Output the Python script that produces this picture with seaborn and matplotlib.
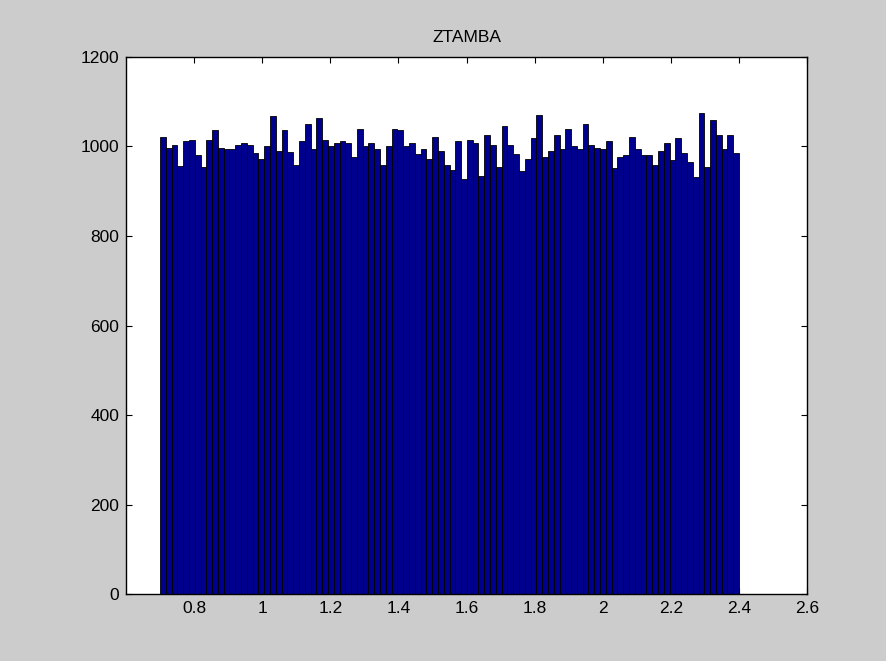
import numpy as np
import pandas as pd
import matplotlib
matplotlib.use("Agg")
import matplotlib.pyplot as plt
import seaborn as sns

# Histogram of ZTAMBA: 100 equal bins between the data range limits
range_lo = 0.7
range_hi = 2.4
counts = [
    1021, 997, 1004, 956, 1011, 1015, 980, 953, 1015, 1036,
    997, 995, 995, 1004, 1007, 1004, 986, 973, 1001, 1067,
    990, 1036, 987, 959, 1011, 1049, 995, 1064, 1015, 1001,
    1007, 1011, 1007, 977, 1039, 1001, 1007, 995, 959, 1001,
    1039, 1036, 1001, 1007, 983, 995, 973, 1021, 990, 959,
    948, 1011, 927, 1015, 1008, 934, 1025, 1004, 955, 1046,
    1004, 983, 945, 973, 1018, 1071, 977, 990, 1025, 995,
    1039, 1001, 995, 1049, 1004, 997, 995, 1011, 952, 977,
    980, 1021, 995, 980, 980, 959, 990, 1007, 969, 1018,
    986, 966, 931, 1074, 955, 1060, 1025, 995, 1025, 986,
]
x_ticks = [0.8, 1.0, 1.2, 1.4, 1.6, 1.8, 2.0, 2.2, 2.4, 2.6]
x_tick_labels = ["0.8", "1", "1.2", "1.4", "1.6", "1.8", "2", "2.2", "2.4", "2.6"]
y_ticks = [0, 200, 400, 600, 800, 1000, 1200]
title = "ZTAMBA"

n_bins = len(counts)
edges = np.linspace(range_lo, range_hi, n_bins + 1)
centers = (edges[:-1] + edges[1:]) / 2
df = pd.DataFrame({"ZTAMBA": centers, "count": np.asarray(counts, dtype=float)})

sns.set_theme(style="white")
plt.rcParams["font.family"] = ["Liberation Sans", "DejaVu Sans"]

fig = plt.figure(figsize=(8.87, 6.61), dpi=100, facecolor="#cccccc")
ax = fig.add_axes([0.142, 0.101, 0.768, 0.813])
ax.set_facecolor("white")

sns.histplot(data=df, x="ZTAMBA", weights="count",
             bins=n_bins, binrange=(range_lo, range_hi),
             color="#00008f", edgecolor="black", linewidth=0.6,
             alpha=1.0, ax=ax)

ax.set_xlim(0.6, 2.6)
ax.set_ylim(0, 1200)
ax.set_xticks(x_ticks)
ax.set_xticklabels(x_tick_labels)
ax.set_yticks(y_ticks)
ax.set_xlabel("")
ax.set_ylabel("")
ax.set_title(title, fontsize=12.5, pad=11, color="black")

for side in ["top", "bottom", "left", "right"]:
    ax.spines[side].set_visible(True)
    ax.spines[side].set_color("black")
    ax.spines[side].set_linewidth(1.0)

ax.tick_params(axis="both", which="both", direction="in", length=4,
               width=0.8, colors="black", labelsize=12.5,
               top=True, right=True, bottom=True, left=True, pad=5)

fig.savefig("out.png", dpi=100, facecolor=fig.get_facecolor())
